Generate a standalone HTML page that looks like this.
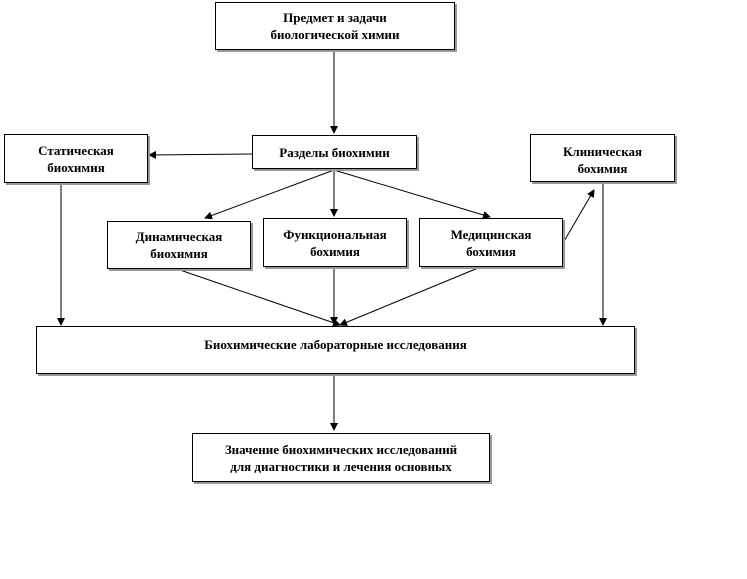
<!DOCTYPE html>
<html><head><meta charset="utf-8"><style>
body{margin:0;background:#fff;width:747px;height:579px;overflow:hidden;position:relative;font-family:"Liberation Serif",serif;}
.b{position:absolute;border:1px solid #000;box-shadow:2px 2px 0 #999;background:#fff;display:flex;align-items:center;justify-content:center;text-align:center;font-weight:bold;font-size:13px;line-height:17px;box-sizing:border-box;}
svg{position:absolute;left:0;top:0}
</style></head><body>
<svg width="747" height="579">
<defs><marker id="a" markerWidth="8" markerHeight="8" refX="7" refY="4" orient="auto" markerUnits="userSpaceOnUse"><path d="M0,0L8,4L0,8z" fill="#000"/></marker></defs>
<g stroke="#000" stroke-width="1" fill="none" marker-end="url(#a)">
<line x1="334" y1="51" x2="334" y2="133"/>
<line x1="252" y1="154" x2="149" y2="155"/>
<line x1="334" y1="170" x2="205" y2="218"/>
<line x1="334" y1="170" x2="334" y2="216"/>
<line x1="334" y1="170" x2="490" y2="217"/>
<line x1="563" y1="243" x2="594" y2="190"/>
<line x1="603" y1="183" x2="603" y2="325"/>
<line x1="61" y1="184" x2="61" y2="325"/>
<line x1="180" y1="270" x2="340" y2="325"/>
<line x1="334" y1="268" x2="334" y2="324"/>
<line x1="478" y1="268" x2="340" y2="325"/>
<line x1="334" y1="375" x2="334" y2="430"/>
</g></svg>
<div class="b" style="left:215px;top:2px;width:240px;height:48px">Предмет и задачи<br>биологической химии</div>
<div class="b" style="left:252px;top:135px;width:165px;height:34px">Разделы биохимии</div>
<div class="b" style="left:4px;top:134px;width:144px;height:49px">Статическая<br>биохимия</div>
<div class="b" style="left:530px;top:134px;width:145px;height:48px;align-items:flex-start;padding-top:8px">Клиническая<br>бохимия</div>
<div class="b" style="left:107px;top:221px;width:144px;height:48px">Динамическая<br>биохимия</div>
<div class="b" style="left:263px;top:218px;width:144px;height:49px;align-items:flex-start;padding-top:7px">Функциональная<br>бохимия</div>
<div class="b" style="left:419px;top:218px;width:144px;height:49px">Медицинская<br>бохимия</div>
<div class="b" style="left:36px;top:326px;width:599px;height:48px;align-items:flex-start;padding-top:9px">Биохимические лабораторные исследования</div>
<div class="b" style="left:192px;top:433px;width:298px;height:49px">Значение биохимических исследований<br>для диагностики и лечения основных</div>
</body></html>
